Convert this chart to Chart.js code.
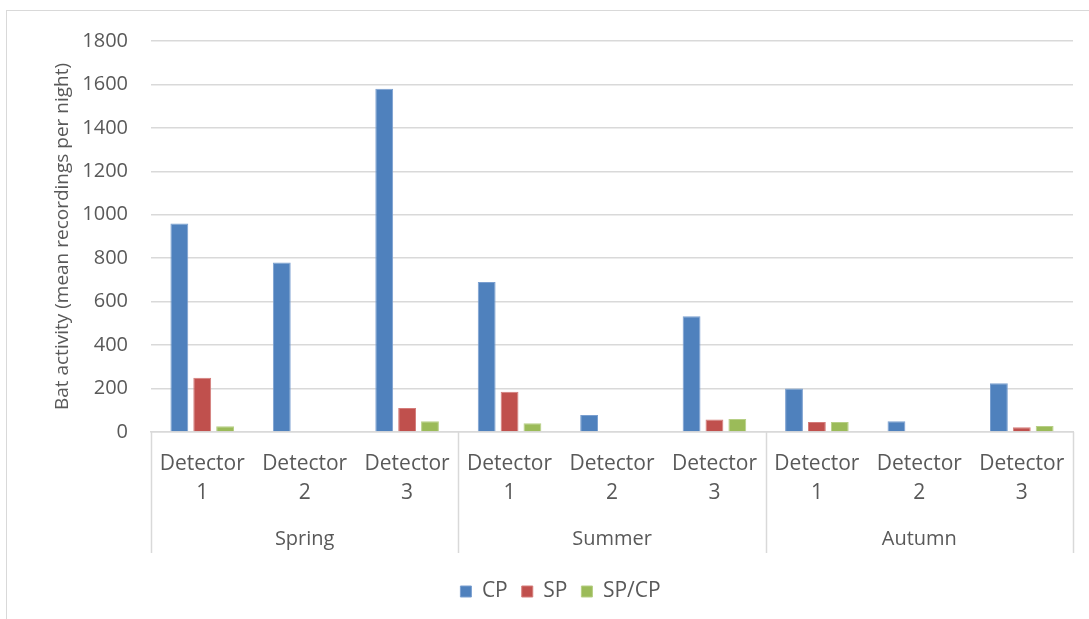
<!DOCTYPE html>
<html>
<head>
<meta charset="utf-8">
<script src="https://cdn.jsdelivr.net/npm/chart.js@4/dist/chart.umd.min.js"></script>
<style>
    html, body { margin: 0; padding: 0; background: #ffffff; }
    #frame {
        position: absolute; left: 6px; top: 10px; right: 0; bottom: 0;
        border-top: 1px solid #d9d9d9; border-left: 1px solid #d9d9d9;
    }
    #wrap { position: absolute; left: 0; top: 0; width: 1089px; height: 619px; }
</style>
</head>
<body>
<div id="frame"></div>
<div id="wrap"><canvas id="batChart" width="1089" height="619"></canvas></div>
<script>
// 계절별 / 검출기별 박쥐 활동량
const seasons = ['Spring', 'Summer', 'Autumn'];
const detectors = [['Detector', '1'], ['Detector', '2'], ['Detector', '3']];
const cpValues = [960, 780, 1580, 690, 78, 533, 200, 49, 225];
const spValues = [250, 0, 110, 185, 0, 58, 46, 0, 22];
const spcpValues = [27, 0, 50, 40, 0, 60, 46, 0, 28];
const yTicks = [0, 200, 400, 600, 800, 1000, 1200, 1400, 1600, 1800];

const textColor = '#595959';
const lineColor = '#d9d9d9';
const fontFamily = '"Open Sans", sans-serif';

// 9개 막대 그룹 = 계절 x 검출기
const labels = [];
seasons.forEach(() => detectors.forEach(d => labels.push(d)));

// 계절 구분선과 계절 이름을 x축 아래에 그림
const seasonAxisPlugin = {
    id: 'seasonAxis',
    afterLayout(chart) {
        // 범례를 조금 오른쪽으로 이동
        chart.legend.left += 24;
        chart.legend.right += 24;
    },
    afterDraw(chart) {
        const { ctx, chartArea } = chart;
        const x = chart.scales.x;
        const top = chartArea.bottom;
        const bottom = top + 121;
        const per = detectors.length;

        const bounds = [chartArea.left];
        for (let i = 1; i < seasons.length; i++) {
            const a = x.getPixelForValue(i * per - 1);
            const b = x.getPixelForValue(i * per);
            bounds.push((a + b) / 2);
        }
        bounds.push(chartArea.right);

        ctx.save();
        ctx.strokeStyle = lineColor;
        ctx.lineWidth = 1.5;
        bounds.forEach(bx => {
            ctx.beginPath();
            ctx.moveTo(Math.round(bx) + 0.5, top);
            ctx.lineTo(Math.round(bx) + 0.5, bottom);
            ctx.stroke();
        });

        ctx.fillStyle = textColor;
        ctx.font = '20px ' + fontFamily;
        ctx.textAlign = 'center';
        ctx.textBaseline = 'middle';
        seasons.forEach((s, i) => {
            const cx = x.getPixelForValue(i * per + 1);
            ctx.fillText(s, cx, top + 107);
        });
        ctx.restore();
    }
};

const ctx = document.getElementById('batChart').getContext('2d');
new Chart(ctx, {
    type: 'bar',
    data: {
        labels: labels,
        datasets: [
            { label: 'CP', data: cpValues, backgroundColor: '#4f81bd', borderColor: '#7a9fd0', borderWidth: 1 },
            { label: 'SP', data: spValues, backgroundColor: '#c0504d', borderColor: '#d47c7a', borderWidth: 1 },
            { label: 'SP/CP', data: spcpValues, backgroundColor: '#9bbb59', borderColor: '#b7cf86', borderWidth: 1 }
        ]
    },
    options: {
        responsive: false,
        animation: false,
        layout: { padding: { top: 41, right: 16, bottom: 7, left: 0 } },
        datasets: {
            bar: { categoryPercentage: 0.67, barPercentage: 0.78 }
        },
        plugins: {
            legend: {
                position: 'bottom',
                labels: {
                    color: textColor,
                    font: { family: fontFamily, size: 21 },
                    boxWidth: 11,
                    boxHeight: 11,
                    padding: 14
                }
            },
            tooltip: { enabled: false }
        },
        scales: {
            x: {
                grid: { display: false },
                border: { display: true, color: lineColor, width: 1.5 },
                ticks: {
                    color: textColor,
                    font: { family: fontFamily, size: 21, lineHeight: 1.4 },
                    padding: 9,
                    maxRotation: 0,
                    autoSkip: false
                },
                afterFit(scale) { scale.height = 135; }
            },
            y: {
                min: 0,
                max: 1800,
                afterBuildTicks(scale) { scale.ticks = yTicks.map(v => ({ value: v })); },
                grid: { color: lineColor, lineWidth: 1.5, drawTicks: false },
                border: { display: false },
                ticks: {
                    color: textColor,
                    font: { family: fontFamily, size: 20 },
                    padding: 23,
                    callback: (value) => String(value)
                },
                title: {
                    display: true,
                    text: 'Bat activity (mean recordings per night)',
                    color: textColor,
                    font: { family: fontFamily, size: 19 },
                    padding: { top: 51, bottom: 0 }
                },
                afterFit(scale) { scale.width = 151; }
            }
        }
    },
    plugins: [seasonAxisPlugin]
});
</script>
</body>
</html>
